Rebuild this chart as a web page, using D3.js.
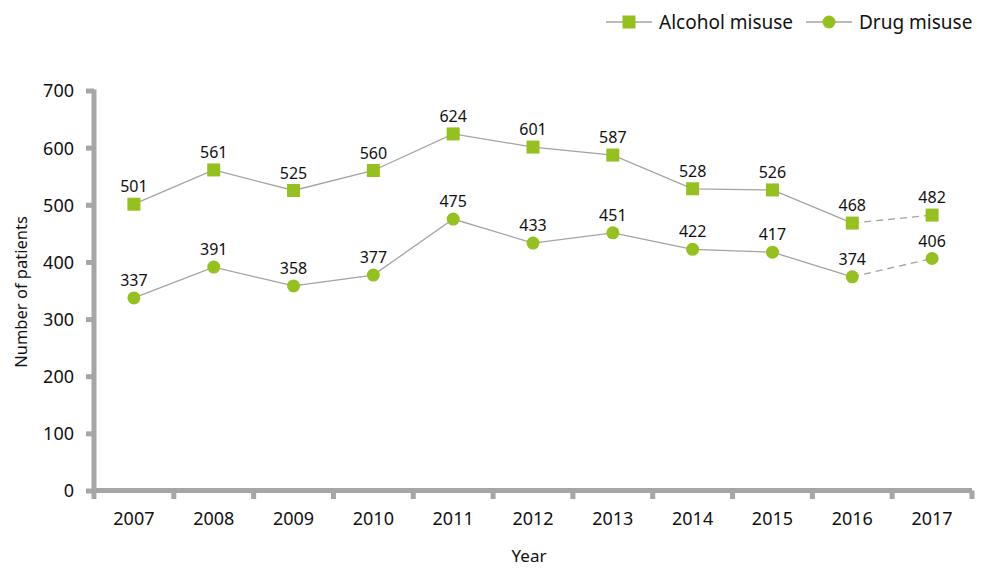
<!DOCTYPE html>
<html>
<head>
<meta charset="utf-8">
<script src="https://cdn.jsdelivr.net/npm/d3@7"></script>
<style>
  html, body { margin: 0; padding: 0; background: #fff; }
  svg { display: block; font-family: "Noto Sans", "Open Sans", sans-serif; }
</style>
</head>
<body>
<svg id="chart" width="986" height="569"></svg>
<script>
// Patients treated for substance misuse, by year
const years = ["2007", "2008", "2009", "2010", "2011", "2012", "2013", "2014", "2015", "2016", "2017"];
const alcoholMisuse = [501, 561, 525, 560, 624, 601, 587, 528, 526, 468, 482];
const drugMisuse = [337, 391, 358, 377, 475, 433, 451, 422, 417, 374, 406];
const yTicks = [0, 100, 200, 300, 400, 500, 600, 700];
const seriesNames = ["Alcohol misuse", "Drug misuse"];

const green = "#95c11f";
const lineGrey = "#a3a3a3";
const axisGrey = "#a6a6a6";
const textColor = "#111";

const svg = d3.select("#chart");
const plotLeft = 94, plotRight = 972, plotBottom = 490.5, plotTop = 90.5;

const x = d3.scaleBand().domain(years).range([plotLeft, plotRight]);
const y = d3.scaleLinear().domain([0, 700]).range([plotBottom, plotTop]);
const cx = d => x(d) + x.bandwidth() / 2;

// Y axis
const yAxis = svg.append("g").attr("transform", `translate(${plotLeft},0)`)
  .call(d3.axisLeft(y).tickValues(yTicks).tickSize(8).tickPadding(12));
yAxis.select(".domain").attr("stroke", axisGrey).attr("stroke-width", 5)
  .attr("d", `M0,${y(700) - 1}V${y(0) + 2.5}`);
yAxis.selectAll(".tick line").attr("stroke", axisGrey).attr("stroke-width", 5);
yAxis.selectAll(".tick text").attr("fill", textColor).attr("dy", "0.36em")
  .style("font-size", "18px").style("font-family", "'Noto Sans', sans-serif");

// X axis with ticks on category boundaries
const xAxis = svg.append("g").attr("transform", `translate(0,${plotBottom})`);
xAxis.append("line").attr("x1", plotLeft - 2.5).attr("x2", plotRight)
  .attr("stroke", axisGrey).attr("stroke-width", 5);
const boundaries = years.map(d => x(d)).concat([x(years[years.length - 1]) + x.bandwidth()]);
xAxis.selectAll("line.tick").data(boundaries).join("line").attr("class", "tick")
  .attr("x1", d => d).attr("x2", d => d).attr("y1", 0).attr("y2", 8.5)
  .attr("stroke", axisGrey).attr("stroke-width", 5);
xAxis.selectAll("text").data(years).join("text")
  .attr("x", d => cx(d)).attr("y", 34.5).attr("text-anchor", "middle")
  .attr("fill", textColor).style("font-size", "18px").text(d => d);

// Axis titles
svg.append("text").attr("x", 529).attr("y", 562).attr("text-anchor", "middle")
  .attr("fill", textColor).style("font-size", "17px").text("Year");
svg.append("text").attr("transform", "translate(27,292) rotate(-90)").attr("text-anchor", "middle")
  .attr("fill", textColor).style("font-size", "16.5px").text("Number of patients");

// Series
const series = [
  { name: seriesNames[0], values: alcoholMisuse, shape: "square" },
  { name: seriesNames[1], values: drugMisuse, shape: "circle" }
];

series.forEach(s => {
  const pts = years.map((yr, i) => ({ yr, v: s.values[i] }));
  const line = d3.line().x(d => cx(d.yr)).y(d => y(d.v));
  svg.append("path").datum(pts.slice(0, pts.length - 1)).attr("d", line)
    .attr("fill", "none").attr("stroke", lineGrey).attr("stroke-width", 1.3);
  svg.append("path").datum(pts.slice(pts.length - 2)).attr("d", line)
    .attr("fill", "none").attr("stroke", lineGrey).attr("stroke-width", 1.3)
    .attr("stroke-dasharray", "7,5");
  const g = svg.append("g");
  if (s.shape === "square") {
    g.selectAll("rect").data(pts).join("rect")
      .attr("x", d => cx(d.yr) - 6.5).attr("y", d => y(d.v) - 6.5)
      .attr("width", 13).attr("height", 13).attr("fill", green);
  } else {
    g.selectAll("circle").data(pts).join("circle")
      .attr("cx", d => cx(d.yr)).attr("cy", d => y(d.v)).attr("r", 6.5).attr("fill", green);
  }
  g.selectAll("text").data(pts).join("text")
    .attr("x", d => cx(d.yr)).attr("y", d => y(d.v) - 12).attr("text-anchor", "middle")
    .attr("fill", textColor).style("font-size", "16px").text(d => d.v);
});

// Legend
const legend = svg.append("g");
const legendItems = [
  { name: seriesNames[0], shape: "square", x0: 606 },
  { name: seriesNames[1], shape: "circle", x0: 806 }
];
legendItems.forEach(it => {
  const ly = 22;
  legend.append("line").attr("x1", it.x0).attr("x2", it.x0 + 46).attr("y1", ly).attr("y2", ly)
    .attr("stroke", lineGrey).attr("stroke-width", 1.3);
  if (it.shape === "square") {
    legend.append("rect").attr("x", it.x0 + 23 - 6.5).attr("y", ly - 6.5)
      .attr("width", 13).attr("height", 13).attr("fill", green);
  } else {
    legend.append("circle").attr("cx", it.x0 + 23).attr("cy", ly).attr("r", 6.5).attr("fill", green);
  }
  legend.append("text").attr("x", it.x0 + 53).attr("y", ly + 6.5)
    .attr("fill", textColor).style("font-size", "19px").text(it.name);
});
</script>
</body>
</html>
